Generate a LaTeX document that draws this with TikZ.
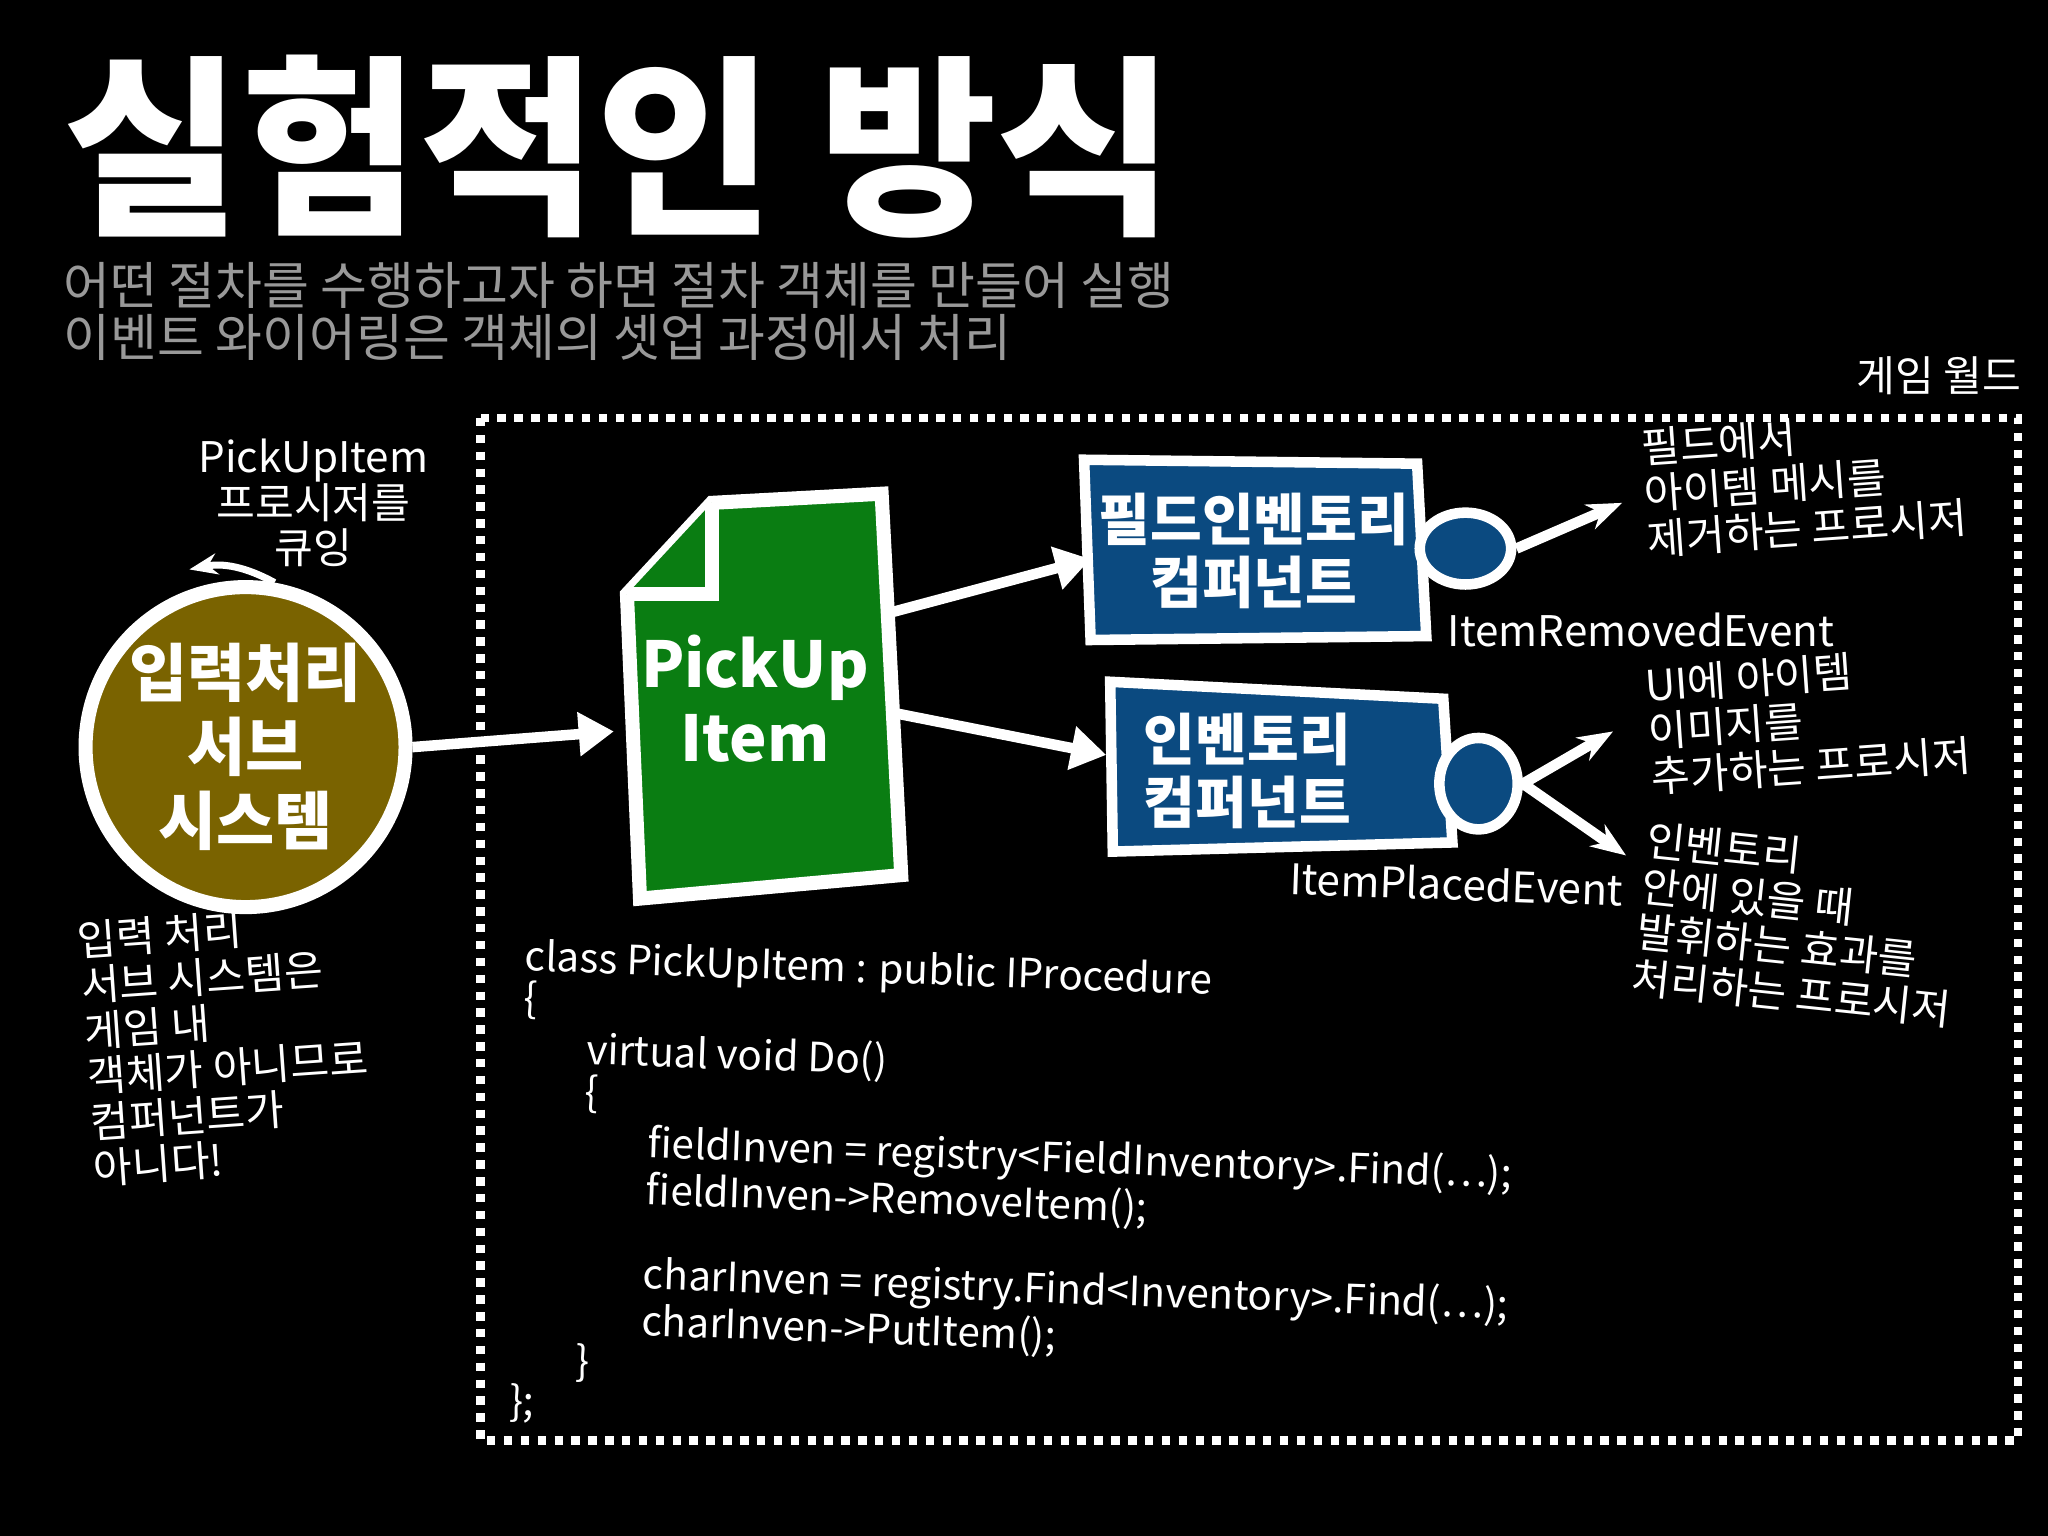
\documentclass[tikz,border=0pt]{standalone}
\usepackage{fontspec}
\setmainfont{Noto Sans CJK KR}
\usetikzlibrary{arrows.meta,shapes.geometric}
\definecolor{boxblue}{HTML}{0B4A80}
\definecolor{olivec}{HTML}{7A6300}
\definecolor{docg}{HTML}{0A7D12}
\begin{document}
\begin{tikzpicture}[x=0.013061cm,y=-0.013061cm,
  wt/.style={text=white,font=\fontsize{12}{13}\selectfont,align=left,inner sep=0pt},
  bt/.style={text=white,font=\bfseries\fontsize{16}{18}\selectfont,align=center},
  arr/.style={draw=white,line width=3pt,-{Triangle[length=10pt,width=12pt]}},
  box/.style={draw=white,line width=3pt,fill=boxblue}]
\useasboundingbox (0,0) rectangle (1568,1176);
\fill[black] (0,0) rectangle (1568,1176);
\node[anchor=west,text=white,font=\bfseries\fontsize{55}{55}\selectfont,inner sep=0pt] (title) at (48,112) {실험적인 방식};
\node[anchor=north west,text=gray!80,font=\fontsize{14.5}{15}\selectfont,align=left,inner sep=0pt] (sub) at (48,200) {어떤 절차를 수행하고자 하면 절차 객체를 만들어 실행\\이벤트 와이어링은 객체의 셋업 과정에서 처리};
\node[wt,anchor=east] (world) at (1548,288) {게임 월드};
\draw[white,line width=2.4pt,dash pattern=on 2.4pt off 2.4pt] (368,320) rectangle (1545,1103);
% circle
\node[circle,draw=white,line width=4pt,fill=olivec,minimum size=245*0.013061cm,bt,font=\bfseries\fontsize{18}{21}\selectfont,inner sep=0pt] (inp) at (188,572) {입력처리\\서브\\시스템};
\node[wt,align=center] (queue) at (240,385) {PickUpItem\\프로시저를\\큐잉};
\coordinate (qa) at (145,436);
\draw[white,line width=2pt,-{Stealth[length=8pt]}] (inp.80) to[bend right=20] (qa);
\node[wt,anchor=north west,rotate=4] (note) at (58,705) {입력 처리\\서브 시스템은\\게임 내\\객체가 아니므로\\컴퍼넌트가\\아니다!};
% doc
\coordinate (d1) at (480,455); \coordinate (d2) at (545,385); \coordinate (d3) at (675,378);
\coordinate (d4) at (690,670); \coordinate (d5) at (490,688);
\fill[docg,draw=white,line width=4pt] (d1)--(d2)--(d3)--(d4)--(d5)--cycle;
\draw[white,line width=4pt,fill=docg] (545,385)--(545,455)--(480,455);
\node[bt,font=\bfseries\fontsize{18}{21}\selectfont] (doc) at (578,535) {PickUp\\Item};
\draw[arr] (inp.east) -- (470,560);
% boxes
\draw[box] (830,352)--(1085,355)--(1092,487)--(835,490)--cycle;
\node[bt] (fb) at (960,422) {필드인벤토리\\컴퍼넌트};
\draw[box] (850,522)--(1105,535)--(1112,645)--(852,652)--cycle;
\node[bt] (ib) at (955,590) {인벤토리\\컴퍼넌트};
\node[ellipse,draw=white,line width=3pt,fill=boxblue,minimum width=70*0.013061cm,minimum height=55*0.013061cm] (b1) at (1122,420) {};
\node[ellipse,draw=white,line width=3pt,fill=boxblue,minimum width=60*0.013061cm,minimum height=70*0.013061cm] (b2) at (1132,600) {};
\draw[arr] (678,470) -- (835,428);
\draw[arr] (680,545) -- (847,578);
\coordinate (e1) at (1242,385); \coordinate (e2) at (1235,560); \coordinate (e3) at (1245,655);
\draw[white,line width=3pt,-{Stealth[length=10pt]}] (b1.east) -- (e1);
\draw[white,line width=3pt,-{Stealth[length=10pt]}] (b2.east) -- (e2);
\draw[white,line width=3pt,-{Stealth[length=10pt]}] (b2.east) -- (e3);
\node[wt,anchor=west] (l1) at (1108,482) {ItemRemovedEvent};
\node[wt,anchor=west,rotate=-2] (l2) at (987,672) {ItemPlacedEvent};
\node[wt,anchor=north west,rotate=4] (t1) at (1255,328) {필드에서\\아이템 메시를\\제거하는 프로시저};
\node[wt,anchor=north west,rotate=4] (t2) at (1258,510) {UI에 아이템\\이미지를\\추가하는 프로시저};
\node[wt,anchor=north west,rotate=-6] (t3) at (1262,628) {인벤토리\\안에 있을 때\\발휘하는 효과를\\처리하는 프로시저};
% code
\node[wt,anchor=north west,rotate=-2,font=\fontsize{11.5}{12}\selectfont] (code) at (402,718) {class PickUpItem : public IProcedure\\
\{\\[2pt]
\hspace*{1.6em}virtual void Do()\\
\hspace*{1.6em}\{\\[2pt]
\hspace*{3.2em}fieldInven = registry<FieldInventory>.Find(…);\\
\hspace*{3.2em}fieldInven->RemoveItem();\\[12pt]
\hspace*{3.2em}charInven = registry.Find<Inventory>.Find(…);\\
\hspace*{3.2em}charInven->PutItem();\\
\hspace*{1.6em}\}\\
\};};
\end{tikzpicture}
\end{document}
